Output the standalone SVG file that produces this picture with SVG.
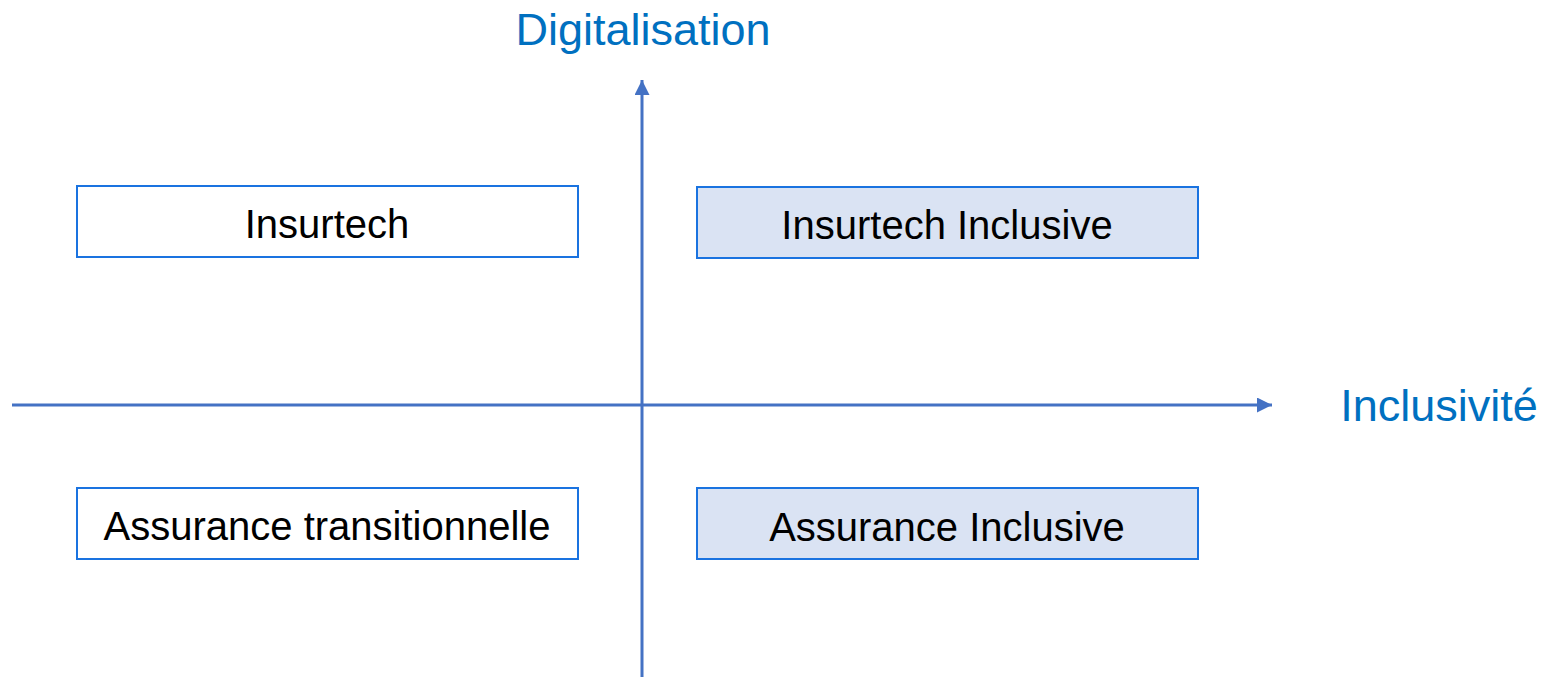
<svg xmlns="http://www.w3.org/2000/svg" width="1557" height="677" viewBox="0 0 1557 677">
<defs>
<style>
.box{stroke:#1a73e0;stroke-width:2}
.plain{fill:#ffffff}
.tint{fill:#dae3f3}
.lbl{font-family:"Liberation Sans",Arial,sans-serif;font-size:40px;fill:#000;text-anchor:middle}
.axis{font-family:"Liberation Sans",Arial,sans-serif;font-size:45px;fill:#0070c0;text-anchor:middle}
.ax{stroke:#4472c4;stroke-width:3;fill:none}
</style>
<marker id="ah" viewBox="0 0 10 10" refX="10" refY="5" markerWidth="5.5" markerHeight="5" markerUnits="strokeWidth" orient="auto">
<path d="M0,0 L10,5 L0,10 z" fill="#4472c4"/>
</marker>
</defs>
<rect width="1557" height="677" fill="#ffffff"/>
<g id="connectors">
<line class="ax" x1="642" y1="677" x2="642" y2="80" marker-end="url(#ah)"/>
<line class="ax" x1="12" y1="405" x2="1272" y2="405" marker-end="url(#ah)"/>
</g>
<g id="label-digitalisation"><text class="axis" x="643" y="45">Digitalisation</text></g>
<g id="label-inclusivite"><text class="axis" x="1439" y="421">Inclusivité</text></g>
<g id="node-insurtech">
<rect class="box plain" x="77" y="186" width="501" height="71"/>
<text class="lbl" x="327" y="238">Insurtech</text>
</g>
<g id="node-insurtech-inclusive">
<rect class="box tint" x="697" y="187" width="501" height="71"/>
<text class="lbl" x="947" y="239">Insurtech Inclusive</text>
</g>
<g id="node-assurance-transitionnelle">
<rect class="box plain" x="77" y="488" width="501" height="71"/>
<text class="lbl" x="327" y="540">Assurance transitionnelle</text>
</g>
<g id="node-assurance-inclusive">
<rect class="box tint" x="697" y="488" width="501" height="71"/>
<text class="lbl" x="947" y="541">Assurance Inclusive</text>
</g>
</svg>
